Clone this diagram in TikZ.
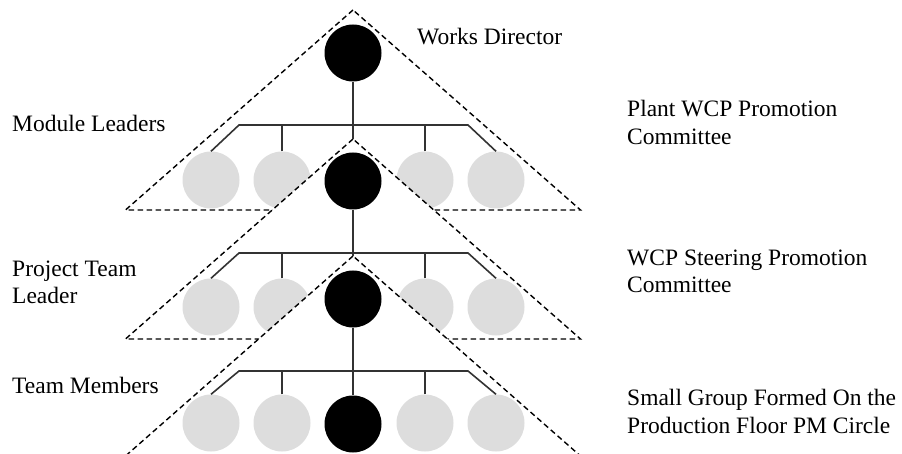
\documentclass[tikz,border=0pt]{standalone}
\usepackage{fontspec}
\setmainfont{Liberation Serif}
\usetikzlibrary{positioning}

\definecolor{memgray}{RGB}{221,221,221}
\tikzset{
  boss/.style={circle, fill=black, minimum size=57pt, inner sep=0pt},
  member/.style={circle, fill=memgray, minimum size=57pt, inner sep=0pt},
  tier/.style={dash pattern=on 5.5pt off 3.5pt, line width=1.4pt, fill=white},
  link/.style={line width=1.6pt, draw=black!80},
  lbl/.style={anchor=base west, inner sep=0pt, align=left, font=\fontsize{23.5}{28}\selectfont}
}

\begin{document}
\begin{tikzpicture}[x=1pt, y=-1pt]
\useasboundingbox (0,0) rectangle (902,454);

%top level
\coordinate (apex1) at (353,10);
\draw[tier] (apex1) -- ++(-227.5,200) -- ++(455,0) -- cycle;
\node[boss] (b1) at (353,53) {};
\node[member] (m11) at (211,180) {};
\node[member] (m12) at (282,180) {};
\node[member] (m13) at (425,180) {};
\node[member] (m14) at (496,180) {};
\coordinate (bus1l) at (239,125);
\coordinate (bus1r) at (468,125);
\draw[link] (m11.north) -- (bus1l) -- (bus1r) -- (m14.north);
\draw[link] (m12.north) -- (m12 |- bus1l);
\draw[link] (m13.north) -- (m13 |- bus1l);

%second level
\coordinate (apex2) at (353,139);
\draw[tier] (apex2) -- ++(-227.5,200) -- ++(455,0) -- cycle;
\node[boss] (b2) at (353,181) {};
\draw[link] (b1) -- (apex2);
\node[member] (m21) at (211,307) {};
\node[member] (m22) at (282,307) {};
\node[member] (m23) at (425,307) {};
\node[member] (m24) at (496,307) {};
\coordinate (bus2l) at (239,253);
\coordinate (bus2r) at (468,253);
\draw[link] (m21.north) -- (bus2l) -- (bus2r) -- (m24.north);
\draw[link] (m22.north) -- (m22 |- bus2l);
\draw[link] (m23.north) -- (m23 |- bus2l);

%third level
\coordinate (apex3) at (353,256);
\draw[tier] (apex3) -- ++(-227.5,200) -- ++(455,0) -- cycle;
\node[boss] (b3) at (353,299) {};
\draw[link] (b2) -- (apex3);
\node[member] (m31) at (211,423) {};
\node[member] (m32) at (282,423) {};
\node[boss] (b4) at (353,424) {};
\node[member] (m33) at (425,423) {};
\node[member] (m34) at (496,423) {};
\coordinate (bus3l) at (239,371);
\coordinate (bus3r) at (468,371);
\draw[link] (m31.north) -- (bus3l) -- (bus3r) -- (m34.north);
\draw[link] (m32.north) -- (m32 |- bus3l);
\draw[link] (m33.north) -- (m33 |- bus3l);
\draw[link] (b3) -- (b4);

%labels (multi-line ones sit on their last line)
\node[lbl] (works) at (417,45) {Works Director};
\node[lbl] (module) at (12,132) {Module Leaders};
\node[lbl] (project) at (12,304) {Project Team\\Leader};
\node[lbl] (members) at (12,393) {Team Members};
\node[lbl] (plant) at (627,145) {Plant WCP Promotion\\Committee};
\node[lbl] (steering) at (627,293) {WCP Steering Promotion\\Committee};
\node[lbl] (small) at (627,433) {Small Group Formed On the\\Production Floor PM Circle};
\end{tikzpicture}
\end{document}
